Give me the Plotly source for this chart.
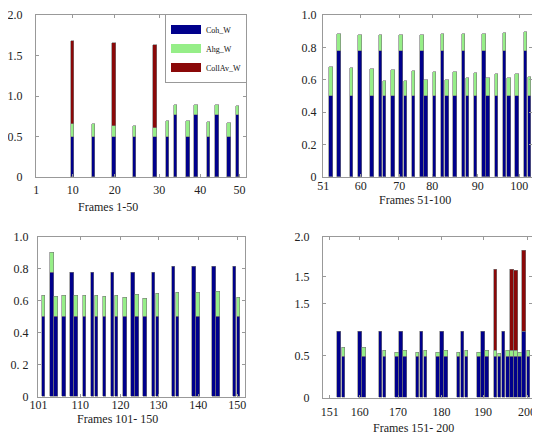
import plotly.graph_objects as go

# ---------------- data ----------------
# Panel 1: frames 1-50
frames_1 = [10, 15, 20, 25, 30, 33, 35, 38, 40, 43, 45, 48, 50]
coh_1 = [0.5, 0.5, 0.5, 0.5, 0.5, 0.5, 0.77, 0.5, 0.77, 0.5, 0.77, 0.5, 0.77]
ahg_1 = [0.15, 0.16, 0.13, 0.125, 0.10, 0.19, 0.12, 0.19, 0.12, 0.18, 0.12, 0.17, 0.105]
coll_1 = [1.03, 0, 1.03, 0, 1.035, 0, 0, 0, 0, 0, 0, 0, 0]

# Panel 2: frames 51-100
frames_2 = [53, 55, 58, 60, 63, 65, 66, 68, 70, 71, 73, 75, 76, 78, 80, 81, 83, 85,
            86, 88, 90, 91, 93, 95, 96, 98, 100, 101]
coh_2 = [0.5, 0.777, 0.5, 0.777, 0.5, 0.777, 0.5, 0.5, 0.777, 0.5, 0.5, 0.777, 0.5, 0.5,
         0.777, 0.5, 0.5, 0.777, 0.5, 0.5, 0.777, 0.5, 0.5, 0.777, 0.5, 0.5, 0.777, 0.5]
ahg_2 = [0.176, 0.103, 0.17, 0.099, 0.164, 0.099, 0.094, 0.16, 0.099, 0.092, 0.154, 0.099,
         0.096, 0.15, 0.103, 0.10, 0.145, 0.103, 0.11, 0.14, 0.108, 0.11, 0.137, 0.112,
         0.112, 0.135, 0.12, 0.119]
coll_2 = [0] * 28

# Panel 3: frames 101-150
frames_3 = [101, 103, 104, 106, 108, 109, 111, 113, 114, 116, 118, 119, 121, 123, 124,
            126, 128, 129, 133, 134, 138, 139, 143, 144, 148, 149]
coh_3 = [0.5, 0.775, 0.5, 0.5, 0.775, 0.5, 0.5, 0.775, 0.5, 0.5, 0.775, 0.5, 0.5, 0.775,
         0.5, 0.5, 0.775, 0.5, 0.81, 0.5, 0.81, 0.5, 0.81, 0.5, 0.81, 0.5]
ahg_3 = [0.132, 0.125, 0.126, 0.13, 0, 0.13, 0.13, 0, 0.13, 0.126, 0, 0.134, 0.12, 0,
         0.136, 0.115, 0, 0.142, 0, 0.149, 0, 0.153, 0, 0.16, 0, 0.12]
coll_3 = [0] * 26

# Panel 4: frames 151-200
frames_4 = [155, 156, 160, 161, 165, 166, 169, 170, 171, 174, 175, 176, 179, 180, 181,
            184, 185, 186, 189, 190, 191, 193, 194, 195, 196, 197, 198, 199, 200, 201]
coh_4 = [0.805, 0.5, 0.805, 0.5, 0.805, 0.5, 0.5, 0.805, 0.5, 0.5, 0.805, 0.5, 0.5, 0.805,
         0.5, 0.5, 0.805, 0.5, 0.5, 0.805, 0.5, 0.5, 0.5, 0.805, 0.5, 0.5, 0.5, 0.5, 0.805, 0.5]
ahg_4 = [0, 0.11, 0, 0.114, 0, 0.07, 0.053, 0, 0.073, 0.049, 0, 0.073, 0.049, 0, 0.073,
         0.049, 0, 0.073, 0.049, 0, 0.073, 0.07, 0.041, 0, 0.077, 0.077, 0.07, 0.053, 0, 0.07]
coll_4 = [0] * 21 + [0.995, 0, 0, 0, 0.988, 0.98, 0, 0.985, 0]

series_names = ["Coh_W", "Ahg_W", "CollAv_W"]
series_colors = ["#00008c", "#96ee88", "#8a0808"]

x_tick_vals = [[1.15, 10, 20.2, 31.0, 41.0, 50.5],
               [51.15, 60.2, 69.5, 77.5, 88.5, 98.5],
               [99.7, 110, 119.9, 129.3, 139.1, 148.7],
               [152.7, 160, 169.3, 179.9, 190, 200.7]]
x_tick_text = [["1", "10", "20", "30", "40", "50"],
               ["51", "60", "70", "80", "90", "100"],
               ["101", "110", "120", "130", "140", "150"],
               ["151", "160", "170", "180", "190", "200"]]
y_tick_vals = [[0, 0.5, 1.0, 1.5, 2.0],
               [0, 0.2, 0.4, 0.6, 0.8, 1.0],
               [0, 0.2, 0.4, 0.6, 0.8, 1.0],
               [0, 0.51, 1.15, 1.475, 1.96]]
y_tick_text = [["0", "0.5", "1.0", "1.5", "2.0"],
               ["0", "0.2", "0.4", "0.6", "0.8", "1.0"],
               ["0", "0. 2", "0.4", "0.6", "0.8", "1.0"],
               ["0", "0.5", "1.5", "1.5", "2.0"]]
axis_titles = ["Frames 1-50", "Frames 51-100", "Frames 101- 150", "Frames 151- 200"]

# ---------------- layout geometry ----------------
# The page body has an 8 px margin, so the figure is sized to fit inside the window
# and all target pixel positions are converted to figure coordinates.
W, H = 540, 437
OFF = 8
FW, FH = W - OFF, H - OFF


def fx(px):
    return (px - OFF) / FW


def fy(py):
    return 1 - (py - OFF) / FH


x_ranges = [[1.08, 52.1], [51.1, 101.6], [99.6, 150.6], [151.05, 201.9]]
y_ranges = [[0, 2.0], [0, 1.0], [0, 1.0], [0, 1.963]]
px_boxes = [(36, 246, 15, 177), (323, 532, 15, 176.7),
            (38, 245, 236.7, 397), (323, 532, 236.7, 397.7)]
y_label_standoff = [10, 3, 6, 10]
x_label_standoff = [2, -2, -3, 3]
title_pos = [(108, 207, "center"), (377, 200, "left"), (117, 419, "center"), (413, 428, "center")]

panels = [(frames_1, coh_1, ahg_1, coll_1), (frames_2, coh_2, ahg_2, coll_2),
          (frames_3, coh_3, ahg_3, coll_3), (frames_4, coh_4, ahg_4, coll_4)]

fig = go.Figure()
font_fam = "Liberation Serif, Times New Roman, serif"

for i, (fr, coh, ahg, coll) in enumerate(panels):
    sfx = "" if i == 0 else str(i + 1)
    for vals, color in zip((coh, ahg, coll), series_colors):
        fig.add_trace(go.Bar(
            x=fr, y=[v if v > 0 else None for v in vals],
            xaxis="x" + sfx, yaxis="y" + sfx,
            width=0.85, marker=dict(color=color, line=dict(color="#777777", width=0.6)),
            showlegend=False, hoverinfo="skip"))
    x0, x1, yt, yb = px_boxes[i]
    common = dict(showgrid=False, zeroline=False, showline=True, automargin=False,
                  linecolor="#999999", linewidth=1, mirror="ticks", ticks="inside",
                  ticklen=3, tickcolor="#999999",
                  tickfont=dict(family=font_fam, size=12, color="#222222"))
    ax = dict(domain=[fx(x0), fx(x1)], range=x_ranges[i], tickvals=x_tick_vals[i],
              ticktext=x_tick_text[i], anchor="y" + sfx,
              ticklabelstandoff=x_label_standoff[i], **common)
    ay = dict(domain=[fy(yb), fy(yt)], range=y_ranges[i], tickvals=y_tick_vals[i],
              ticktext=y_tick_text[i], anchor="x" + sfx,
              ticklabelstandoff=y_label_standoff[i], **common)
    fig.update_layout(**{"xaxis" + sfx: ax, "yaxis" + sfx: ay})
    tx, ty, anc = title_pos[i]
    fig.add_annotation(x=fx(tx), y=fy(ty), xref="paper", yref="paper", text=axis_titles[i],
                       showarrow=False, xanchor=anc, yanchor="middle",
                       font=dict(family=font_fam, size=12, color="#222222"))

# legend entries (wide swatches like the original)
for name, color in zip(series_names, series_colors):
    fig.add_trace(go.Scatter(x=[None], y=[None], mode="lines", name=name,
                             line=dict(color=color, width=9), xaxis="x", yaxis="y"))

fig.update_layout(
    width=FW, height=FH, margin=dict(l=0, r=0, t=0, b=0, autoexpand=False),
    paper_bgcolor="white", plot_bgcolor="white", barmode="stack", bargap=0,
    legend=dict(x=fx(165), y=fy(14), xanchor="left", yanchor="top",
                traceorder="normal", bgcolor="white", bordercolor="#999999", borderwidth=1,
                font=dict(family=font_fam, size=8, color="#111111"),
                itemwidth=30, tracegroupgap=0),
)

fig.write_html("out.html")
